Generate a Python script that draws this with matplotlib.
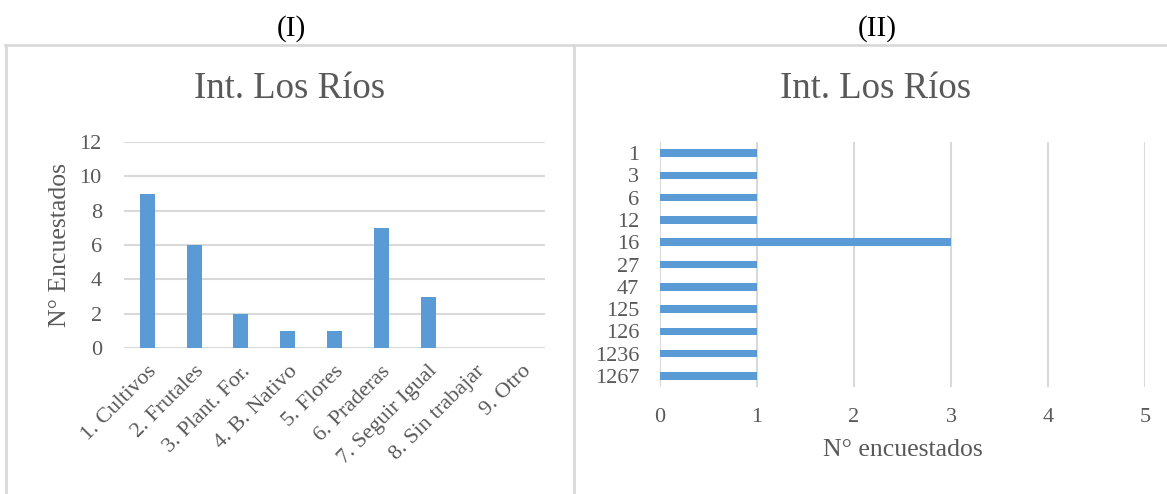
import matplotlib
matplotlib.use("Agg")
import matplotlib.pyplot as plt
from matplotlib.lines import Line2D

plt.rcParams['font.family'] = ['Liberation Serif', 'DejaVu Serif']

# ---- data ----
cats_left = ["1. Cultivos", "2. Frutales", "3. Plant. For.", "4. B. Nativo", "5. Flores",
             "6. Praderas", "7. Seguir Igual", "8. Sin trabajar", "9. Otro"]
vals_left = [9, 6, 2, 1, 1, 7, 3, 0, 0]

cats_right = ["1", "3", "6", "12", "16", "27", "47", "125", "126", "1236", "1267"]
vals_right = [1, 1, 1, 1, 3, 1, 1, 1, 1, 1, 1]

panel_labels = ["(I)", "(II)"]
chart_title = "Int. Los Ríos"

BAR = "#5B9BD5"
TXT = "#595959"
GRID = "#D9D9D9"

W, H = 1167, 494
fig = plt.figure(figsize=(W / 100, H / 100), dpi=100)

def fx(px):
    return px / W

def fy(py):
    return 1 - py / H

# frame lines
fig.add_artist(Line2D([fx(5), 1.0], [fy(45.5), fy(45.5)], color=GRID, lw=2))
fig.add_artist(Line2D([fx(6), fx(6)], [0, fy(45.5)], color=GRID, lw=2))
fig.add_artist(Line2D([fx(574), fx(574)], [0, fy(45.5)], color=GRID, lw=2))

fig.text(fx(291), fy(29), panel_labels[0], ha="center", va="center", fontsize=21, color="black")
fig.text(fx(877), fy(29), panel_labels[1], ha="center", va="center", fontsize=21, color="black")

fig.text(fx(290), fy(89), chart_title, ha="center", va="center", fontsize=26.5, color=TXT)
fig.text(fx(876), fy(89), chart_title, ha="center", va="center", fontsize=26.5, color=TXT)

# ---- left chart ----
ax1 = fig.add_axes([fx(124), fy(348), fx(545 - 124), (348 - 142) / H])
x = range(len(cats_left))
ax1.bar(x, vals_left, width=0.32, color=BAR, zorder=3)
ax1.set_xlim(-0.5, len(cats_left) - 0.5)
ax1.set_ylim(0, 12)
ax1.set_yticks(range(0, 13, 2))
ax1.set_xticks(list(x))
ax1.set_xticklabels(cats_left, rotation=45, ha="right", va="top", rotation_mode="anchor")
ax1.yaxis.grid(True, color=GRID, lw=1.5, zorder=0)
ax1.set_axisbelow(True)
for s in ax1.spines.values():
    s.set_visible(False)
ax1.tick_params(axis="both", length=0, labelsize=16, colors=TXT)
ax1.tick_params(axis="y", pad=16)
ax1.tick_params(axis="x", pad=10)
ax1.set_ylabel("N° Encuestados", fontsize=18.5, color=TXT, labelpad=6)

# ---- right chart ----
ax2 = fig.add_axes([fx(660), fy(387), fx(1145 - 660), (387 - 142) / H])
y = range(len(cats_right))
ax2.barh(list(y), vals_right, height=0.34, color=BAR, zorder=3)
ax2.set_ylim(len(cats_right) - 0.5, -0.5)
ax2.set_xlim(0, 5)
ax2.set_xticks(range(0, 6))
ax2.set_yticks(list(y))
ax2.set_yticklabels(cats_right)
ax2.xaxis.grid(True, color=GRID, lw=1.5, zorder=0)
ax2.set_axisbelow(True)
for s in ax2.spines.values():
    s.set_visible(False)
ax2.tick_params(axis="both", length=0, labelsize=16, colors=TXT)
ax2.tick_params(axis="y", pad=15)
ax2.tick_params(axis="x", pad=15)
ax2.set_xlabel("N° encuestados", fontsize=18.5, color=TXT, labelpad=9)

fig.savefig("out.png", dpi=100, facecolor="white")
